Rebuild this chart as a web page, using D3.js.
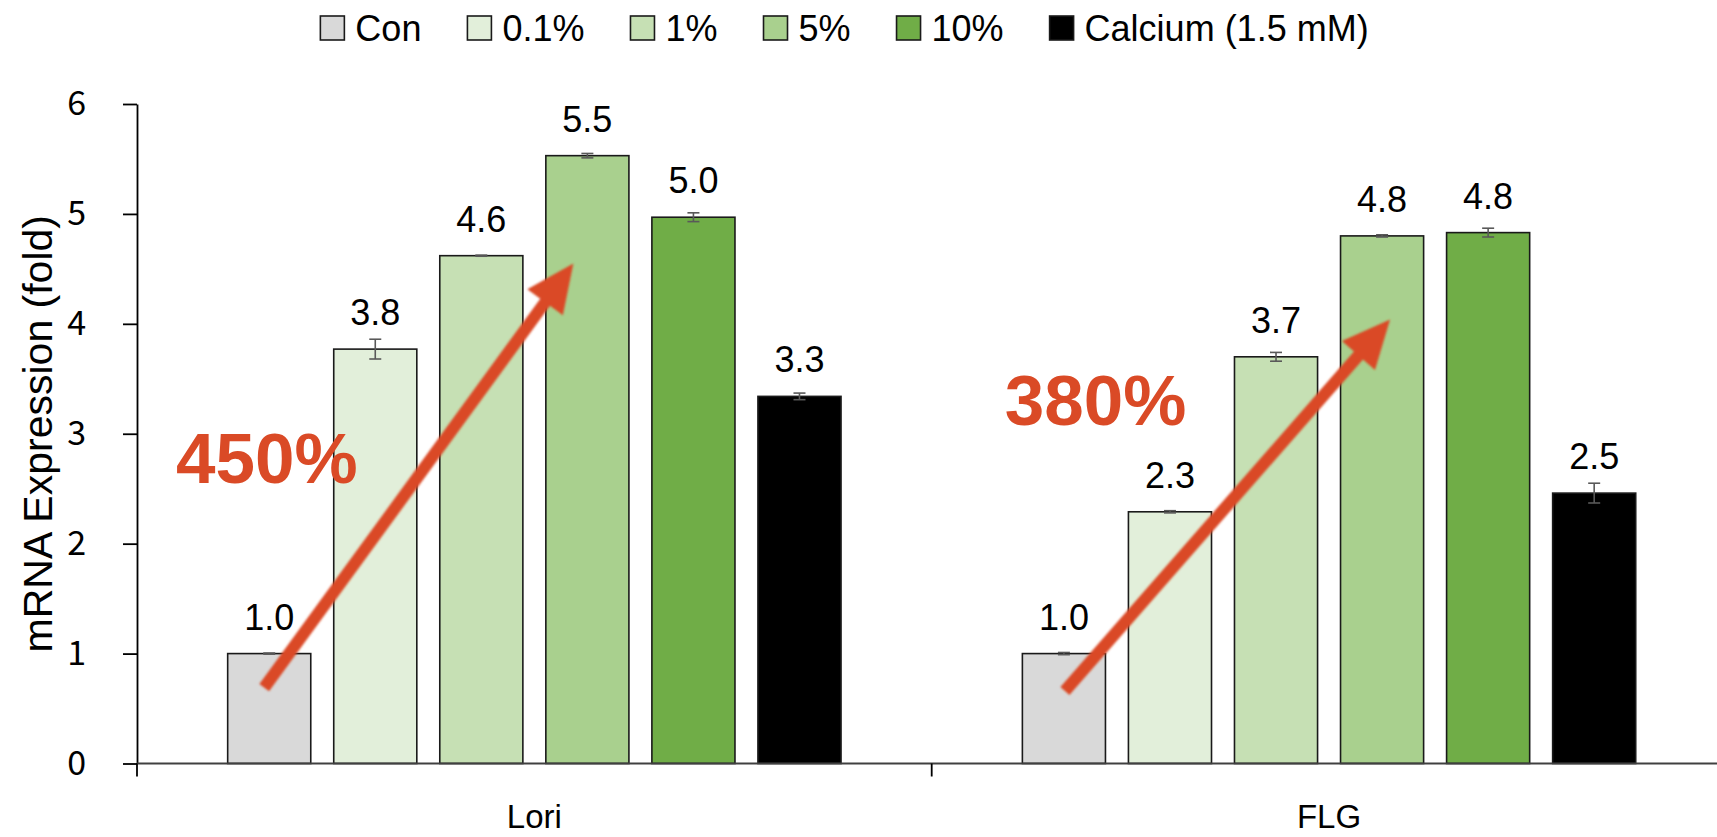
<!DOCTYPE html>
<html><head><meta charset="utf-8">
<script src="https://cdn.jsdelivr.net/npm/d3@7"></script>
<style>body{margin:0;background:#fff;overflow:hidden}</style>
</head><body>
<svg id="chart" width="1717" height="837"></svg>
<script>
// ---------------- data ----------------
const groups = ["Lori", "FLG"];
const series = ["Con", "0.1%", "1%", "5%", "10%", "Calcium (1.5 mM)"];
const loriValues = [1.00, 3.77, 4.62, 5.53, 4.97, 3.34];
const flgValues  = [1.00, 2.29, 3.70, 4.80, 4.83, 2.46];
const loriErrors = [0.005, 0.09, 0.005, 0.02, 0.04, 0.03];
const flgErrors  = [0.01, 0.01, 0.04, 0.01, 0.04, 0.09];
const seriesColors = ["#D9D9D9", "#E2EFDA", "#C6E0B4", "#A9D08E", "#70AD47", "#000000"];
const yTicks = [0, 1, 2, 3, 4, 5, 6];
const increaseLabels = ["450%", "380%"];
// arrow annotations in data space (from the Con bar to the 5% bar)
const arrowFromValues = [0.69, 0.66];
const arrowToValues = [4.55, 4.04];

const valuesByGroup = { "Lori": loriValues, "FLG": flgValues };
const errorsByGroup = { "Lori": loriErrors, "FLG": flgErrors };

// ---------------- layout ----------------
const W = 1717, H = 837;
const plotLeft = 137, groupWidth = 794.7;
const svg = d3.select("#chart");
const FONT = "'Liberation Sans', Arial, sans-serif";

const y = d3.scaleLinear().domain([0, 6]).range([763.5, 104]);
const x0 = d3.scaleBand().domain(groups).range([plotLeft, plotLeft + groupWidth * groups.length]).padding(0);
const x1 = d3.scaleBand().domain(series).range([0, x0.bandwidth()]).paddingInner(0.2166).paddingOuter(0.855);
const color = d3.scaleOrdinal().domain(series).range(seriesColors);

const records = [];
groups.forEach(g => series.forEach((s, i) => records.push({
  group: g, series: s, value: valuesByGroup[g][i], err: errorsByGroup[g][i]
})));

// bars
svg.append("g").selectAll("rect").data(records).join("rect")
  .attr("x", d => x0(d.group) + x1(d.series))
  .attr("y", d => y(d.value))
  .attr("width", x1.bandwidth())
  .attr("height", d => y(0) - y(d.value))
  .attr("fill", d => color(d.series))
  .attr("stroke", "#1a1a1a")
  .attr("stroke-width", 1.6);

// error bars
const eb = svg.append("g").attr("stroke", "#595959").attr("stroke-width", 1.6);
records.forEach(d => {
  const cx = x0(d.group) + x1(d.series) + x1.bandwidth() / 2;
  const y1 = y(d.value + d.err), y2 = y(d.value - d.err);
  eb.append("line").attr("x1", cx).attr("x2", cx).attr("y1", y1).attr("y2", y2);
  eb.append("line").attr("x1", cx - 6).attr("x2", cx + 6).attr("y1", y1).attr("y2", y1);
  eb.append("line").attr("x1", cx - 6).attr("x2", cx + 6).attr("y1", y2).attr("y2", y2);
});

// value labels
svg.append("g").selectAll("text").data(records).join("text")
  .attr("x", d => x0(d.group) + x1(d.series) + x1.bandwidth() / 2)
  .attr("y", d => y(d.value) - 24)
  .attr("text-anchor", "middle")
  .attr("font-family", FONT)
  .attr("font-size", 36)
  .attr("fill", "#000")
  .text(d => d.value.toFixed(1));

// y axis
const yAxis = svg.append("g").attr("transform", `translate(${plotLeft},0)`)
  .call(d3.axisLeft(y).tickValues(yTicks).tickSize(14).tickSizeOuter(0).tickPadding(37).tickFormat(d3.format("d")));
yAxis.select(".domain").attr("stroke", "#000").attr("stroke-width", 1.8);
yAxis.selectAll(".tick line").attr("stroke", "#000").attr("stroke-width", 1.8);
yAxis.selectAll(".tick text").attr("font-family", "'Noto Sans CJK KR', 'Noto Sans', sans-serif")
  .attr("font-size", 34).attr("fill", "#000");

// x axis
const xa = svg.append("g");
xa.append("line").attr("x1", plotLeft).attr("x2", W).attr("y1", y(0)).attr("y2", y(0))
  .attr("stroke", "#404040").attr("stroke-width", 2);
const seps = groups.map(g => x0(g)).concat([x0.range()[1]]);
xa.selectAll("line.sep").data(seps).join("line").attr("class", "sep")
  .attr("x1", d => d).attr("x2", d => d).attr("y1", y(0)).attr("y2", y(0) + 13)
  .attr("stroke", "#000").attr("stroke-width", 1.8);
xa.selectAll("text").data(groups).join("text")
  .attr("x", g => x0(g) + x0.bandwidth() / 2)
  .attr("y", 828)
  .attr("text-anchor", "middle")
  .attr("font-family", FONT)
  .attr("font-size", 33)
  .text(g => g);

// y title
svg.append("text")
  .attr("transform", `translate(52,${(y(1) + y(5)) / 2}) rotate(-90)`)
  .attr("text-anchor", "middle")
  .attr("font-family", FONT)
  .attr("font-size", 41)
  .text("mRNA Expression (fold)");

// annotations: arrows + percentages
const defs = svg.append("defs");
defs.append("filter").attr("id", "soft").append("feGaussianBlur").attr("stdDeviation", 0.9);
const arrowColor = "#DA4A26";
groups.forEach((g, gi) => {
  const bx = s => x0(g) + x1(s) + x1.bandwidth() / 2;
  const p0 = [bx(series[0]) - (gi === 0 ? 5 : -1), y(arrowFromValues[gi])];
  const p1 = [bx(series[3]) + (gi === 0 ? -14 : 8), y(arrowToValues[gi])];
  const dx = p1[0] - p0[0], dy = p1[1] - p0[1], len = Math.hypot(dx, dy);
  const u = [dx / len, dy / len], n = [-u[1], u[0]];
  const sw = 6, hl = 48, hw = 22;
  const b = [p1[0] - u[0] * hl, p1[1] - u[1] * hl];
  const pts = [
    [p0[0] + n[0] * sw, p0[1] + n[1] * sw],
    [b[0] + n[0] * sw, b[1] + n[1] * sw],
    [b[0] + n[0] * hw, b[1] + n[1] * hw],
    p1,
    [b[0] - n[0] * hw, b[1] - n[1] * hw],
    [b[0] - n[0] * sw, b[1] - n[1] * sw],
    [p0[0] - n[0] * sw, p0[1] - n[1] * sw]
  ];
  svg.append("path").attr("d", d3.line()(pts) + "Z").attr("fill", arrowColor).attr("filter", "url(#soft)");
});
const labelOffsets = [39, 73];
const labelValues = [2.55, 3.08];
increaseLabels.forEach((t, i) => {
  svg.append("text")
    .attr("x", x0(groups[i]) + labelOffsets[i])
    .attr("y", y(labelValues[i]))
    .attr("font-family", FONT)
    .attr("font-weight", "bold")
    .attr("font-size", 71)
    .attr("fill", arrowColor)
    .text(t);
});

// legend
const legend = svg.append("g");
let lx = 0;
series.forEach((s, i) => {
  const gItem = legend.append("g");
  gItem.append("rect").attr("x", 0).attr("y", 16).attr("width", 24).attr("height", 24)
    .attr("fill", seriesColors[i]).attr("stroke", "#1a1a1a").attr("stroke-width", 1.6);
  const t = gItem.append("text").attr("x", 35).attr("y", 41)
    .attr("font-family", FONT).attr("font-size", 36).text(s);
  const w = 35 + t.node().getComputedTextLength();
  gItem.attr("transform", `translate(${lx},0)`);
  lx += w + 46;
});
const legendW = lx - 46;
legend.attr("transform", `translate(${844.5 - legendW / 2},0)`);
</script>
</body></html>
